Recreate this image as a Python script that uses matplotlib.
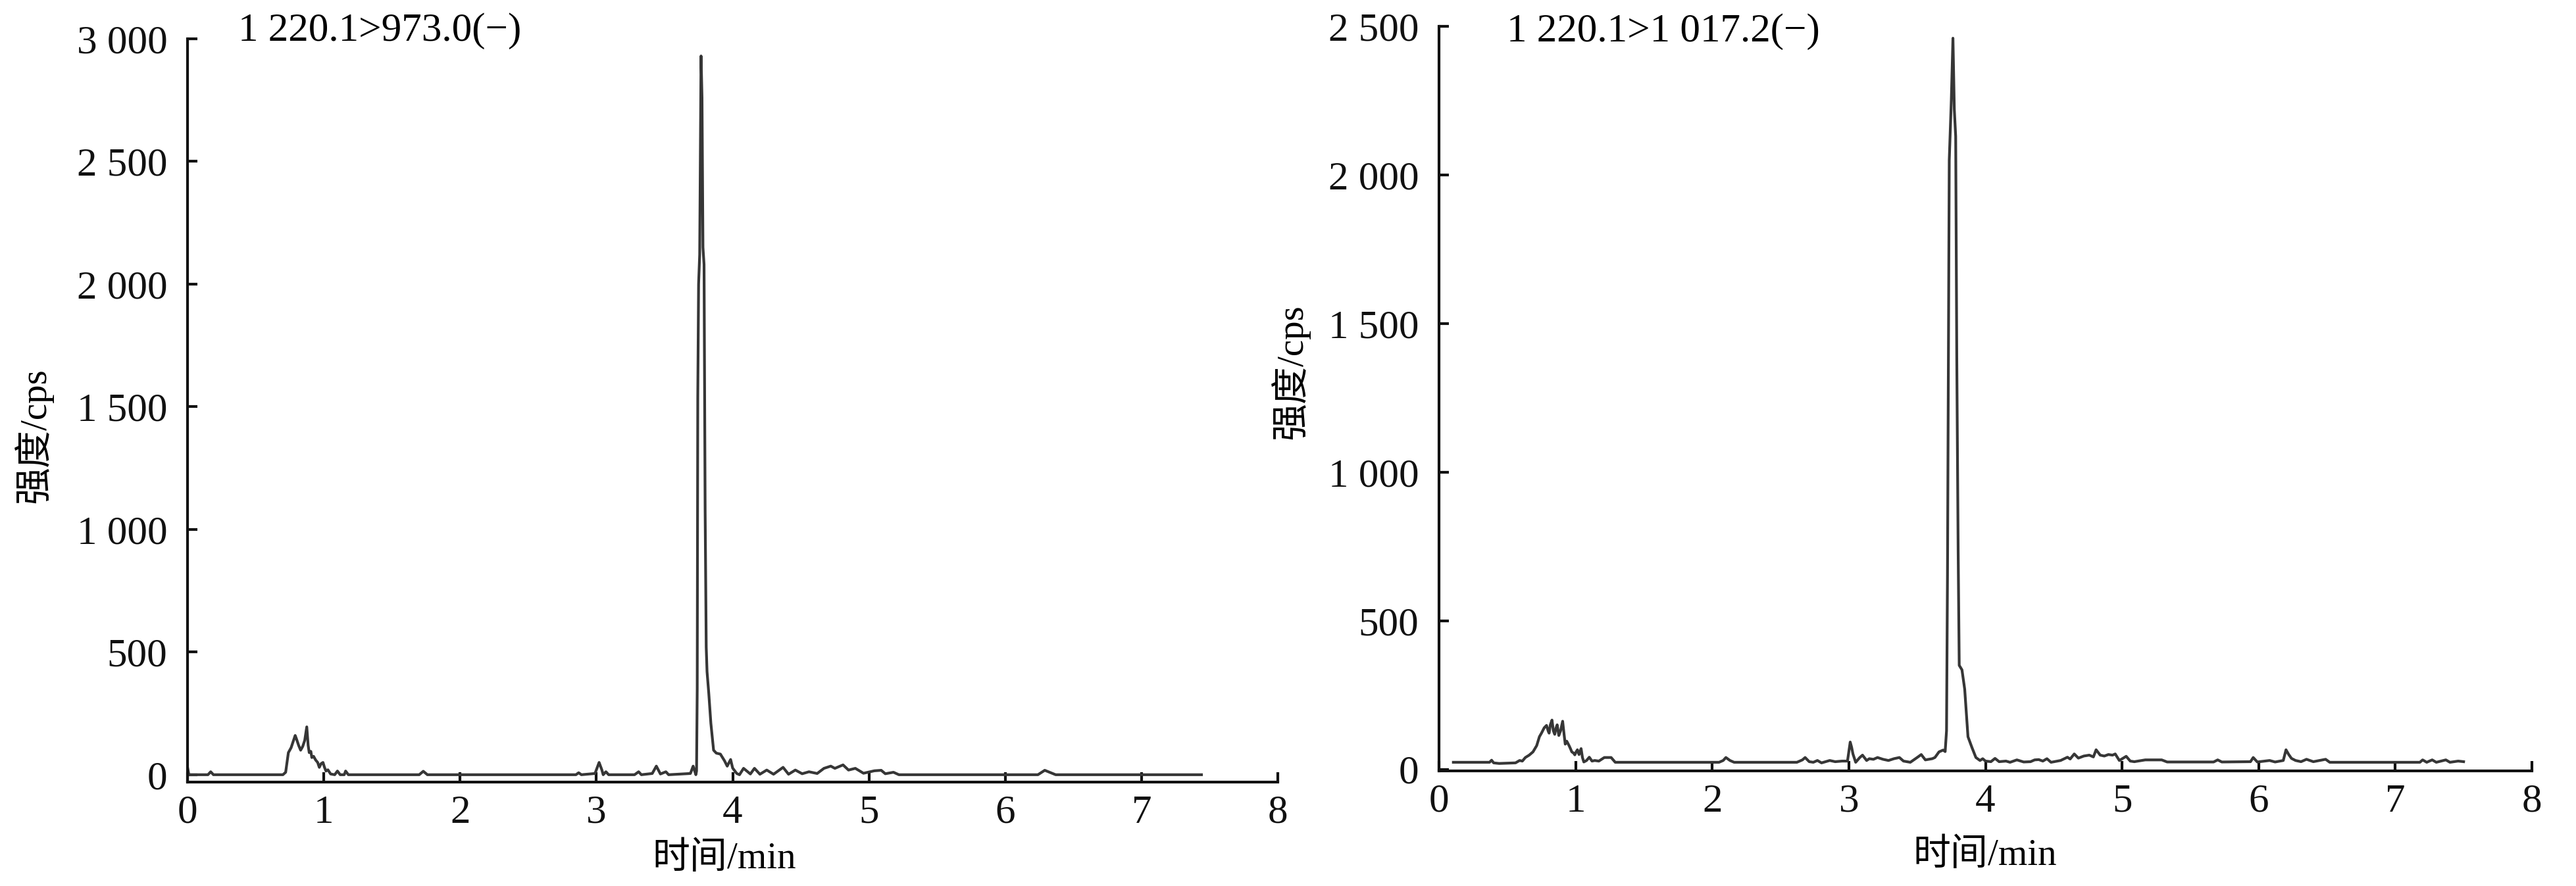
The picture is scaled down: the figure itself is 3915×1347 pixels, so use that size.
import matplotlib
matplotlib.use("Agg")
import matplotlib.pyplot as plt

# --- Fonts ---
FONTS = ['Liberation Serif', 'Noto Sans CJK SC']
plt.rcParams['font.family'] = FONTS

# --- Chromatogram 1: 1 220.1>973.0(-) ---
time_a = [0.0, 0.01, 0.15, 0.17, 0.19, 0.70, 0.72, 0.74, 0.76, 0.79, 0.80, 0.815, 0.83,
          0.845, 0.86, 0.875, 0.885, 0.893, 0.905, 0.912, 0.925, 0.94, 0.955, 0.967,
          0.98, 0.994, 1.005, 1.016, 1.03, 1.05, 1.08, 1.10, 1.12, 1.15, 1.16, 1.18,
          1.70, 1.73, 1.76, 2.85, 2.87, 2.89, 2.99, 3.02, 3.04, 3.05, 3.07, 3.09,
          3.28, 3.31, 3.33, 3.41, 3.44, 3.47, 3.51, 3.53, 3.69, 3.71, 3.73,
          3.735, 3.740, 3.744, 3.750, 3.758, 3.768, 3.775, 3.782, 3.790, 3.798, 3.806,
          3.812, 3.825, 3.84, 3.86, 3.88, 3.91, 3.94, 3.96, 3.985, 4.0, 4.03, 4.05,
          4.08, 4.13, 4.16, 4.20, 4.25, 4.30, 4.37, 4.41, 4.46, 4.51, 4.56, 4.62,
          4.67, 4.72, 4.75, 4.81, 4.85, 4.90, 4.96, 5.04, 5.09, 5.12, 5.18, 5.22,
          6.24, 6.29, 6.37, 7.44]
intensity_a = [30, 0, 0, 12, 0, 0, 10, 90, 110, 160, 145, 120, 100,
               115, 140, 195, 120, 90, 95, 70, 75, 60, 50, 30,
               45, 50, 30, 15, 20, 3, 0, 15, 0, 0, 15, 0,
               0, 14, 0, 0, 8, 0, 5, 50, 20, 0, 12, 0,
               0, 12, 0, 5, 35, 3, 12, 0, 5, 35, 0,
               15, 350, 1540, 2000, 2120, 2930, 2760, 2150, 2080, 1080, 520,
               420, 330, 210, 100, 88, 84, 57, 35, 62, 27, 5, 0,
               26, 3, 26, 2, 19, 2, 30, 2, 19, 4, 12, 5,
               26, 35, 26, 40, 19, 26, 6, 16, 18, 4, 10, 0,
               0, 18, 0, 0]

# --- Chromatogram 2: 1 220.1>1 017.2(-) ---
time_b = [0.105, 0.37, 0.385, 0.40, 0.44, 0.56, 0.59, 0.61, 0.632, 0.66, 0.688, 0.715,
          0.735, 0.75, 0.77, 0.787, 0.80, 0.806, 0.815, 0.827, 0.837, 0.847, 0.857,
          0.865, 0.877, 0.89, 0.905, 0.915, 0.924, 0.935, 0.952, 0.962, 0.972, 0.985,
          0.994, 1.005, 1.013, 1.025, 1.04, 1.05, 1.06, 1.08, 1.10, 1.12, 1.14, 1.17,
          1.21, 1.26, 1.29, 2.05, 2.08, 2.10, 2.13, 2.16, 2.62, 2.66, 2.68, 2.71,
          2.74, 2.77, 2.80, 2.86, 2.90, 2.95, 2.99, 3.00, 3.01, 3.02, 3.03, 3.05,
          3.08, 3.10, 3.13, 3.15, 3.18, 3.21, 3.25, 3.29, 3.33, 3.37, 3.40, 3.45,
          3.50, 3.53, 3.56, 3.61, 3.63, 3.66, 3.69,
          3.705, 3.715, 3.722, 3.735, 3.75, 3.762, 3.772, 3.782, 3.79, 3.80, 3.808,
          3.828, 3.848, 3.872, 3.90, 3.93, 3.96, 3.98, 4.0, 4.04, 4.07, 4.10, 4.15,
          4.18, 4.23, 4.28, 4.33, 4.36, 4.39, 4.42, 4.45, 4.48, 4.55, 4.60, 4.62,
          4.65, 4.68, 4.72, 4.76, 4.79, 4.81, 4.84, 4.87, 4.90, 4.93, 4.95, 4.98,
          5.03, 5.06, 5.09, 5.17, 5.29, 5.33, 5.67, 5.70, 5.73, 5.94, 5.96, 5.99,
          6.08, 6.12, 6.18, 6.20, 6.22, 6.24, 6.27, 6.31, 6.35, 6.40, 6.49, 6.52,
          7.18, 7.20, 7.23, 7.27, 7.30, 7.37, 7.40, 7.46, 7.50]
intensity_b = [24, 24, 31, 22, 20, 22, 30, 28, 40, 48, 59, 80,
               110, 122, 140, 148, 128, 122, 150, 166, 130, 118, 140,
               150, 114, 130, 162, 120, 85, 95, 80, 70, 59, 55,
               49, 60, 66, 50, 70, 40, 25, 30, 41, 28, 30, 28,
               40, 40, 24, 24, 30, 40, 30, 24, 24, 32, 40, 26,
               24, 30, 22, 30, 26, 28, 28, 60, 92, 75, 52, 24,
               40, 48, 30, 36, 34, 40, 34, 30, 36, 40, 28, 24,
               40, 50, 32, 36, 40, 59, 65,
               60, 130, 650, 2050, 2250, 2460, 2220, 2130, 1390, 740, 350,
               335, 270, 110, 75, 40, 30, 36, 28, 26, 37, 26, 28,
               24, 32, 25, 26, 32, 33, 28, 36, 24, 30, 41, 35,
               52, 38, 45, 48, 42, 66, 48, 45, 50, 48, 52, 30,
               44, 28, 26, 32, 32, 25, 25, 32, 25, 26, 40, 25,
               30, 25, 30, 66, 50, 37, 30, 26, 34, 26, 34, 24,
               24, 32, 24, 32, 24, 32, 24, 28, 26]

# --- Axis ticks and texts ---
x_ticks = [0, 1, 2, 3, 4, 5, 6, 7, 8]
y_ticks_a = [0, 500, 1000, 1500, 2000, 2500, 3000]
y_labels_a = ['0', '500', '1 000', '1 500', '2 000', '2 500', '3 000']
y_ticks_b = [0, 500, 1000, 1500, 2000, 2500]
y_labels_b = ['0', '500', '1 000', '1 500', '2 000', '2 500']
title_a = '1 220.1>973.0(\u2212)'
title_b = '1 220.1>1 017.2(\u2212)'
xlabel = '时间/min'
ylabel = '强度/cps'

W, H = 3916, 1347
fig = plt.figure(figsize=(W / 100, H / 100), dpi=100)


def px_box(x0, y_top, x1, y_bot):
    # pixel box -> figure fraction rect
    return [x0 / W, 1 - y_bot / H, (x1 - x0) / W, (y_bot - y_top) / H]


def draw(ax, t, y, yticks, ylabels, ylim):
    ax.plot(t, y, color='#363636', lw=3.0, solid_joinstyle='round')
    ax.set_xlim(0, 8)
    ax.set_ylim(*ylim)
    ax.set_xticks(x_ticks)
    ax.set_xticklabels([str(v) for v in x_ticks])
    ax.set_yticks(yticks)
    ax.set_yticklabels(ylabels)
    for s in ['top', 'right']:
        ax.spines[s].set_visible(False)
    for s in ['left', 'bottom']:
        ax.spines[s].set_linewidth(3.0)
        ax.spines[s].set_color('#111111')
    ax.tick_params(direction='in', length=11, width=3.0, labelsize=44,
                   colors='#111111')
    ax.tick_params(axis='y', pad=22)
    ax.tick_params(axis='x', pad=14)
    for lab in ax.get_xticklabels() + ax.get_yticklabels():
        lab.set_family(FONTS)


ax1 = fig.add_axes(px_box(285, 59, 1942, 1189))
draw(ax1, time_a, intensity_a, y_ticks_a, y_labels_a, (-30, 3000))

ax2 = fig.add_axes(px_box(2187, 40, 3848, 1172))
draw(ax2, time_b, intensity_b, y_ticks_b, y_labels_b, (-5, 2500))

# --- Titles and axis labels ---
fig.text(362 / W, 1 - 62 / H, title_a, fontsize=44, va='baseline', ha='left')
fig.text(2290 / W, 1 - 63 / H, title_b, fontsize=44, va='baseline', ha='left')

fig.text(1101 / W, 1 - 1306 / H, xlabel, fontsize=41, ha='center', va='center')
fig.text(3017 / W, 1 - 1301 / H, xlabel, fontsize=41, ha='center', va='center')
fig.text(50 / W, 1 - 662 / H, ylabel, fontsize=41, ha='center', va='center',
         rotation=90)
fig.text(1960 / W, 1 - 565 / H, ylabel, fontsize=41, ha='center', va='center',
         rotation=90)

fig.savefig('out.png', dpi=100)
